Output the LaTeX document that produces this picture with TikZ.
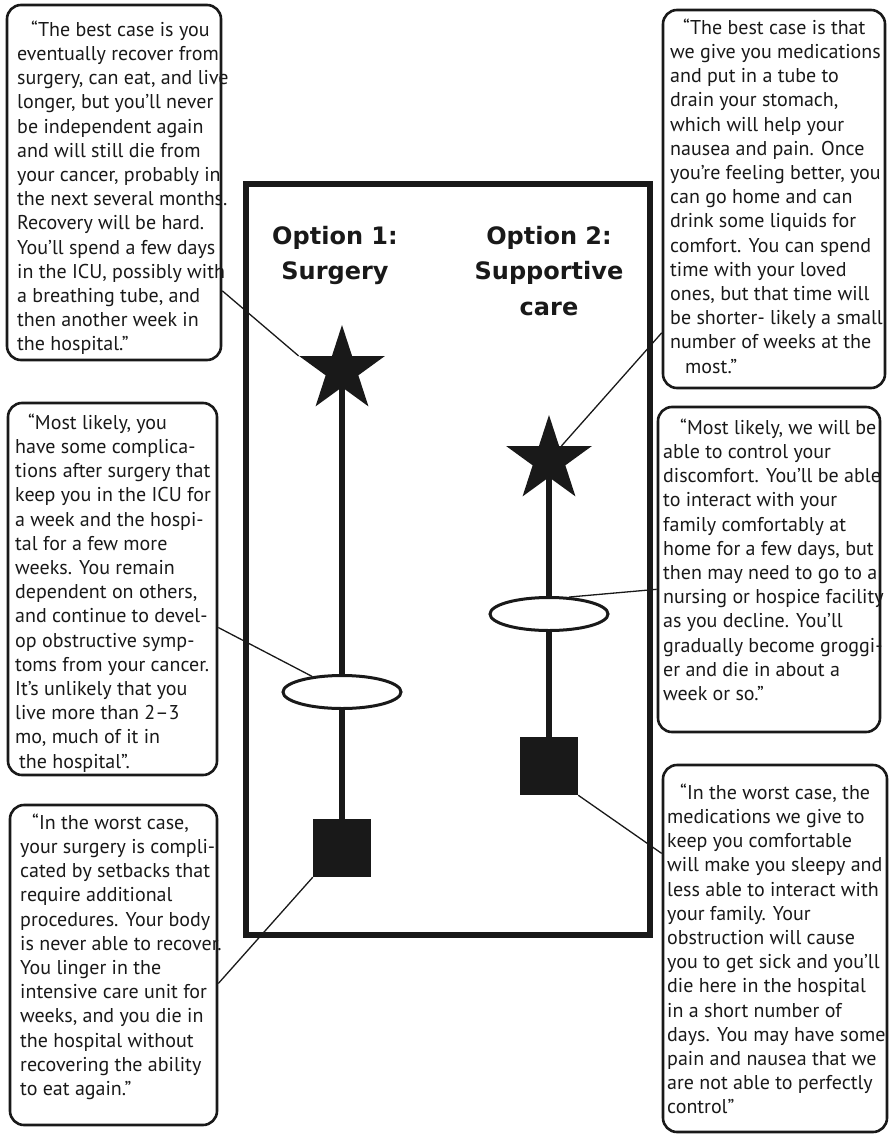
\documentclass[tikz,border=0pt]{standalone}
\usepackage{fontspec}
\usetikzlibrary{shapes.geometric}
\newfontfamily\bodyfont{PT Sans}
\newfontfamily\headfont{DejaVu Sans}
\definecolor{ink}{gray}{0.1}
\tikzset{
	casebox/.style 2 args={draw=ink, line width=2.6, rounded corners=14, minimum width=#1, minimum height=#2, inner sep=0},
	bodytext/.style={font=\bodyfont\fontsize{20}{24.2}\selectfont, align=left, anchor=north west, inner sep=0, text=ink},
	headtext/.style={font=\headfont\bfseries\fontsize{24}{35.5}\selectfont, align=center, anchor=north, inner sep=0, text=ink},
	bead/.style={ellipse, draw=ink, line width=3, fill=white, minimum width=118, minimum height=33, inner sep=0},
	block/.style={fill=ink, minimum size=58, inner sep=0},
	goal/.style={star, star points=5, star point ratio=2.618, minimum size=90, fill=ink, inner sep=0},
	link/.style={draw=ink, line width=1.3}
}
\begin{document}
\begin{tikzpicture}[x=1pt, y=-1pt]
		\useasboundingbox (0,0) rectangle (890,1135);
		
		% cornice centrale
		\draw[ink, line width=6] (246,184) rectangle (650,935);
		\node[headtext] (opt1) at (335,226) {Option 1:\\Surgery};
		\node[headtext] (opt2) at (549,226) {Option 2:\\Supportive\\care};
		
		% opzione 1
		\node[goal] (star1) at (342,370) {};
		\node[bead] (mid1) at (342,692) {};
		\node[block] (sq1) at (342,848) {};
		\draw[ink, line width=6] (star1) -- (mid1);
		\draw[ink, line width=6] (mid1) -- (sq1);
		
		% opzione 2
		\node[goal] (star2) at (549,460) {};
		\node[bead] (mid2) at (549,614) {};
		\node[block] (sq2) at (549,766) {};
		\draw[ink, line width=6] (star2) -- (mid2);
		\draw[ink, line width=6] (mid2) -- (sq2);
		
		% riquadri
		\node[casebox={214}{355}] (best1) at (114,182.5) {};
		\node[casebox={222}{378}] (best2) at (774,199) {};
		\node[casebox={209}{372}] (likely1) at (112.5,589) {};
		\node[casebox={222}{325}] (likely2) at (769,569.5) {};
		\node[casebox={207}{320}] (worst1) at (113.5,965) {};
		\node[casebox={224}{367}] (worst2) at (775,948.5) {};
		
		\node[bodytext] (best1txt) at (17,20.5) {\hspace*{14pt}“The best case is you\\eventually recover from\\surgery, can eat, and live\\longer, but you’ll never\\be independent again\\and will still die from\\your cancer, probably in\\the next several months.\\Recovery will be hard.\\You’ll spend a few days\\in the ICU, possibly with\\a breathing tube, and\\then another week in\\the hospital.”};
		\node[bodytext] (best2txt) at (670,18.5) {\hspace*{13pt}“The best case is that\\we give you medications\\and put in a tube to\\drain your stomach,\\which will help your\\nausea and pain. Once\\you’re feeling better, you\\can go home and can\\drink some liquids for\\comfort. You can spend\\time with your loved\\ones, but that time will\\be shorter- likely a small\\number of weeks at the\\\hspace*{15pt}most.”};
		\node[bodytext] (likely1txt) at (15,413.5) {\hspace*{13pt}“Most likely, you\\have some complica-\\tions after surgery that\\keep you in the ICU for\\a week and the hospi-\\tal for a few more\\weeks. You remain\\dependent on others,\\and continue to devel-\\op obstructive symp-\\toms from your cancer.\\It’s unlikely that you\\live more than 2–3\\mo, much of it in\\\hspace*{4pt}the hospital”.};
		\node[bodytext] (likely2txt) at (663,418.5) {\hspace*{17pt}“Most likely, we will be\\able to control your\\discomfort. You’ll be able\\to interact with your\\family comfortably at\\home for a few days, but\\then may need to go to a\\nursing or hospice facility\\as you decline. You’ll\\gradually become groggi-\\er and die in about a\\week or so.”};
		\node[bodytext] (worst1txt) at (20,813.5) {\hspace*{12pt}“In the worst case,\\your surgery is compli-\\cated by setbacks that\\require additional\\procedures. Your body\\is never able to recover.\\You linger in the\\intensive care unit for\\weeks, and you die in\\the hospital without\\recovering the ability\\to eat again.”};
		\node[bodytext] (worst2txt) at (667,783.5) {\hspace*{13pt}“In the worst case, the\\medications we give to\\keep you comfortable\\will make you sleepy and\\less able to interact with\\your family. Your\\obstruction will cause\\you to get sick and you’ll\\die here in the hospital\\in a short number of\\days. You may have some\\pain and nausea that we\\are not able to perfectly\\control”};
		
		% collegamenti
		\draw[link] (best1.-45) -- (star1.outer point 2);
		\draw[link] (best2.-130) -- (star2);
		\draw[link] (likely1.-20) -- (mid1);
		\draw[link] (likely2.190) -- (mid2.40);
		\draw[link] (worst1.-10) -- (sq1.south west);
		\draw[link] (worst2.140) -- (sq2.south east);
	\end{tikzpicture}
\end{document}
